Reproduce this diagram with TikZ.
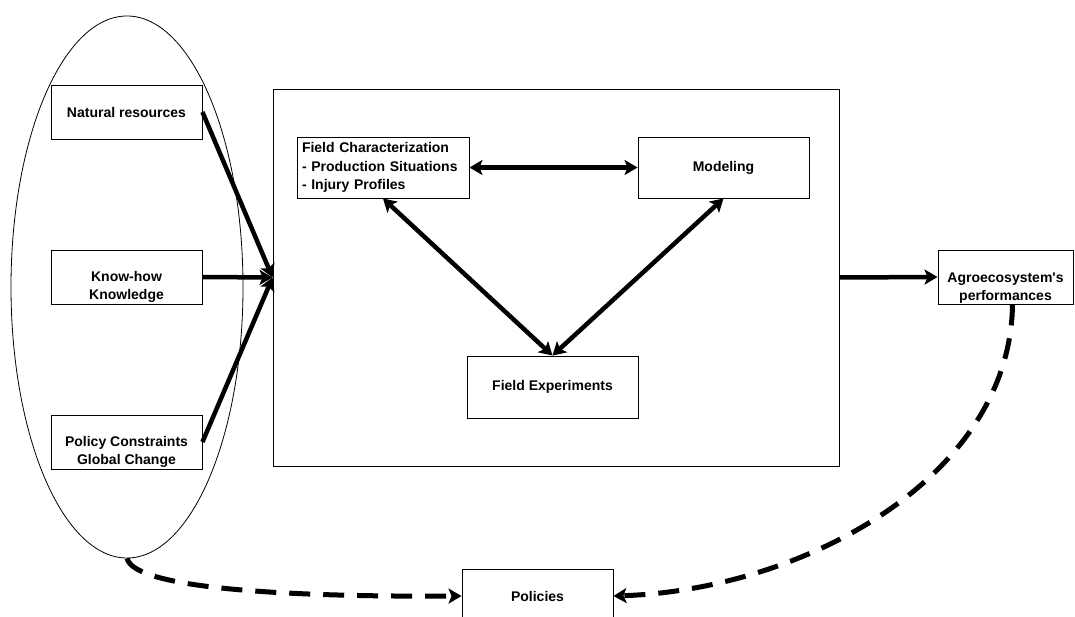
\documentclass[tikz,border=0pt]{standalone}
\usepackage{fontspec}
\setmainfont{Liberation Sans}
\usetikzlibrary{arrows.meta,shapes.geometric}

\begin{document}
\begin{tikzpicture}[x=1pt,y=-1pt,
        box/.style={draw, line width=0.9pt, inner sep=0pt},
        lbl/.style={font=\fontsize{14}{18.5}\selectfont\bfseries, align=center, inner sep=0pt},
        flow/.style={line width=4.5pt, -{Stealth[length=13pt,width=15pt,inset=3pt]}},
        twoway/.style={line width=4.5pt, {Stealth[length=13pt,width=15pt,inset=3pt]}-{Stealth[length=13pt,width=15pt,inset=3pt]}},
        feedback/.style={line width=5pt, dash pattern=on 21pt off 13pt, -{Stealth[length=13pt,width=15pt,inset=3pt]}}]

        \useasboundingbox (0,0) rectangle (1075,617);

        % Drivers (left group)
        \node[ellipse, draw, line width=0.8pt, inner sep=0pt, minimum width=232pt, minimum height=542pt] (drivers) at (127,287) {};
        \node[box, minimum width=151pt, minimum height=54pt] (natural) at (126.5,112) {};
        \node[lbl] (naturaltxt) at (natural.center) {Natural resources};
        \node[box, minimum width=151pt, minimum height=54pt] (knowhow) at (126.5,277) {};
        \node[lbl] (knowhowtxt) at ([yshift=-10pt]knowhow.center) {Know-how\\Knowledge};
        \node[box, minimum width=151pt, minimum height=54pt] (policy) at (126.5,442) {};
        \node[lbl] (policytxt) at ([yshift=-10pt]policy.center) {Policy Constraints\\Global Change};

        % Research system
        \node[box, minimum width=566pt, minimum height=377pt] (system) at (556,277.5) {};
        \node[box, lbl, align=left, text width=162pt, inner xsep=5pt, minimum height=61pt] (fieldchar) at (383,167.5)
            {Field Characterization\\- Production Situations\\- Injury Profiles};
        \node[box, lbl, minimum width=171pt, minimum height=61pt] (modeling) at (723.5,167.5) {Modeling};
        \node[box, lbl, minimum width=171pt, minimum height=62pt] (fieldexp) at (552.5,387) {Field Experiments};

        % Outputs
        \node[box, minimum width=135pt, minimum height=54pt] (agro) at (1005.5,277) {};
        \node[lbl] (agrotxt) at ([yshift=-11pt]agro.center) {Agroecosystem\textquotesingle s\\performances};
        \node[box, lbl, minimum width=151pt, minimum height=54pt] (policies) at (537.5,596) {Policies};

        % Arrows
        \draw[flow] (natural.east) -- (system.west);
        \draw[flow] (knowhow.east) -- (system.west);
        \draw[flow] (policy.east) -- (system.west);
        \draw[flow] (system.east) -- (agro.west);
        \draw[twoway] (fieldchar.east) -- (modeling.west);
        \draw[twoway] (fieldchar.south) -- (fieldexp.north);
        \draw[twoway] (modeling.south) -- (fieldexp.north);

        % Feedback to policies
        \draw[feedback] (drivers.south) .. controls (135,590) and (300,597) .. (policies.west);
        \draw[feedback] ([xshift=7pt]agro.south) .. controls (1010,480) and (800,590) .. (policies.east);
\end{tikzpicture}
\end{document}
